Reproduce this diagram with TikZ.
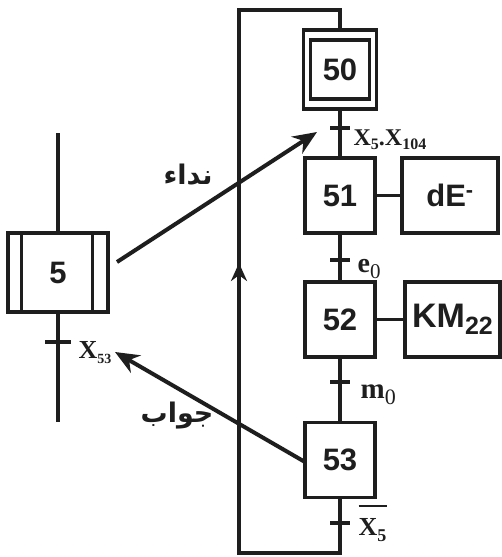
\documentclass[tikz,border=0pt]{standalone}
\usepackage{fontspec}
\setmainfont{Liberation Sans}
\newfontfamily\serifb{Liberation Serif}
\newfontfamily\arabicfont[Script=Arabic]{DejaVu Sans}
\usetikzlibrary{arrows.meta}
\TeXXeTstate=1
\definecolor{ink}{HTML}{1E1E1E}
\newcommand\lowsub[3]{\raisebox{#1}{\fontsize{#2}{#2}\selectfont #3}}
\begin{document}
\begin{tikzpicture}[x=1pt,y=-1pt,line width=3.2pt,color=ink,
  stepbox/.style={draw,line width=3.2pt,inner sep=0pt,minimum width=70,minimum height=75,
    font=\fontsize{31}{31}\selectfont\bfseries},
  actbox/.style={draw,line width=3.2pt,inner sep=0pt,minimum width=95,minimum height=75,
    font=\fontsize{31}{31}\selectfont\bfseries},
  tbar/.style={line width=4.5pt},
  callarrow/.style={line width=4pt,-{Stealth[length=24pt,width=20pt]}},
  lbl/.style={inner sep=0pt,anchor=base west,font=\fontsize{24}{24}\serifb\bfseries},
  arlbl/.style={inner sep=0pt,font=\fontsize{27}{27}\arabicfont\bfseries}]
\useasboundingbox (0,0) rectangle (502,557);
% main column
\node[stepbox,minimum width=73,minimum height=79] (s50) at (340,69.5) {};
\node[stepbox,minimum width=59,minimum height=59] (s50in) at (340,69.5) {50};
\node[stepbox] (s51) at (340,195.5) {51};
\node[stepbox] (s52) at (340,319.5) {52};
\node[stepbox] (s53) at (340,460) {53};
\node[actbox,minimum width=96] (a51) at (450,195.5) {dE\textsuperscript{-}};
\node[actbox] (a52) at (452.5,319.5) {\fontsize{34}{34}\selectfont KM\lowsub{-7pt}{25}{22}};
\draw (s51.east) -- (a51.west);
\draw (s52.east) -- (a52.west);
\draw (s50.south) -- (s51.north);
\draw (s51.south) -- (s52.north);
\draw (s52.south) -- (s53.north);
% transitions
\coordinate (t1) at (340,128);
\coordinate (t2) at (340,260);
\coordinate (t3) at (340,382);
\coordinate (t4) at (340,523);
\foreach \t in {t1,t2,t3,t4} \draw[tbar] ([xshift=-10pt]\t) -- ([xshift=10pt]\t);
\node[lbl] (l1) at (352,145) {X\lowsub{-4pt}{16}{5}.X\lowsub{-4pt}{16}{104}};
\node[lbl] (l2) at (356,272) {\fontsize{28}{28}\selectfont e\lowsub{-6pt}{21}{\mdseries 0}};
\node[lbl] (l3) at (359,398) {\fontsize{29}{29}\selectfont m\lowsub{-6pt}{22}{\mdseries 0}};
\node[lbl] (l4) at (357,535) {\rlap{\rule[28pt]{28pt}{1.8pt}}\fontsize{26}{26}\selectfont X\lowsub{-6pt}{18}{5}};
% loop
\coordinate (lb) at (340,553);
\coordinate (ll) at (239,553);
\coordinate (lt) at (239,10);
\coordinate (rt) at (340,10);
\draw (s53.south) -- (lb) -- (ll) -- (lt) -- (rt) -- (s50.north);
\coordinate (am) at (239,263);
\draw[-{Stealth[length=18pt,width=16pt]}] (239,290) -- (am);
% step 5
\node[stepbox,minimum width=100,minimum height=79] (s5) at (58,272.5) {5};
\draw ([xshift=15pt]s5.north west) -- ([xshift=15pt]s5.south west);
\draw ([xshift=-17pt]s5.north east) -- ([xshift=-17pt]s5.south east);
\coordinate (s5top) at (58,133);
\coordinate (s5bot) at (58,422);
\draw (s5top) -- (s5.north);
\draw (s5.south) -- (s5bot);
\coordinate (t5) at (58,342);
\draw[tbar] ([xshift=-13pt]t5) -- ([xshift=13pt]t5);
\node[lbl] (l5) at (77,358) {\fontsize{26}{26}\selectfont X\lowsub{-5pt}{14}{53}};
% communication arrows
\coordinate (c1s) at (117,262);
\coordinate (c1e) at (317,132);
\draw[callarrow] (c1s) -- (c1e);
\coordinate (c2s) at (305,462);
\coordinate (c2e) at (115,352);
\draw[callarrow] (c2s) -- (c2e);
\node[arlbl] (ar1) at (188,175) {\beginR نداء\endR};
\node[arlbl] (ar2) at (177,416) {\beginR جواب\endR};
\end{tikzpicture}
\end{document}
